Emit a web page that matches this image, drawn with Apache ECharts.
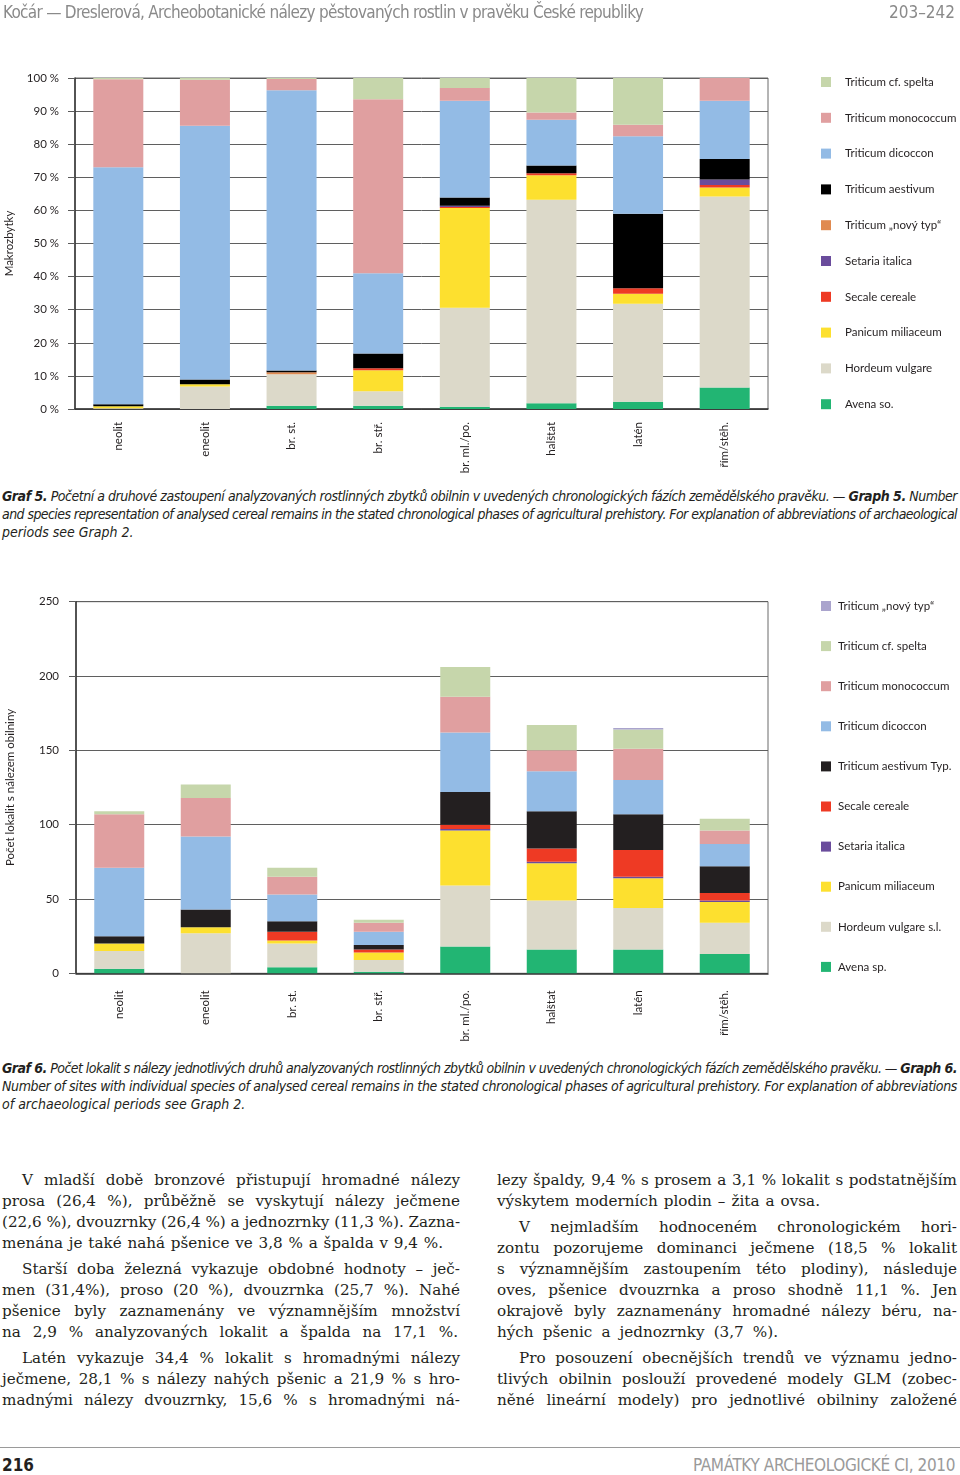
<!DOCTYPE html>
<html><head><meta charset="utf-8">
<script src="https://cdn.jsdelivr.net/npm/echarts/dist/echarts.min.js"></script>
<style>
html,body{margin:0;padding:0;background:#fff;}
body{width:960px;height:1475px;position:relative;overflow:hidden;}
.chart{position:absolute;left:0;width:960px;}
.ln{position:absolute;white-space:nowrap;display:inline-block;}
.hdr{font-family:"Liberation Sans Narrow","DejaVu Sans Condensed",sans-serif;font-size:17px;color:#8a8a8a;line-height:20px;}
.cap{font-family:"Liberation Sans Narrow","DejaVu Sans Condensed",sans-serif;font-style:italic;font-size:14px;color:#231f20;line-height:18px;}
.cap b{font-weight:bold;}
.txt{font-family:"DejaVu Serif",serif;font-size:15.2px;color:#231f20;line-height:20px;}
.foot{font-family:"Liberation Sans Narrow","DejaVu Sans Condensed",sans-serif;font-size:17px;line-height:20px;}
</style></head>
<body>
<div id="c1" class="chart" style="top:0;height:485px;"></div>
<div id="c2" class="chart" style="top:560px;height:495px;"></div>

<div class="ln hdr" data-fit="640" data-mode="ls" style="left:3px;top:2px;">Kočár — Dreslerová, Archeobotanické nálezy pěstovaných rostlin v pravěku České republiky</div>
<div class="ln hdr" style="right:5px;top:2px;">203–242</div>

<div class="ln cap" data-fit="955" style="left:2px;top:487px;"><b>Graf 5.</b> Početní a druhové zastoupení analyzovaných rostlinných zbytků obilnin v uvedených chronologických fázích zemědělského pravěku. — <b>Graph 5.</b> Number</div>
<div class="ln cap" data-fit="955" style="left:2px;top:505px;">and species representation of analysed cereal remains in the stated chronological phases of agricultural prehistory. For explanation of abbreviations of archaeological</div>
<div class="ln cap" style="left:2px;top:523px;">periods see Graph 2.</div>

<div class="ln cap" data-fit="955" style="left:2px;top:1059px;"><b>Graf 6.</b> Počet lokalit s nálezy jednotlivých druhů analyzovaných rostlinných zbytků obilnin v uvedených chronologických fázích zemědělského pravěku. — <b>Graph 6.</b></div>
<div class="ln cap" data-fit="955" style="left:2px;top:1077px;">Number of sites with individual species of analysed cereal remains in the stated chronological phases of agricultural prehistory. For explanation of abbreviations</div>
<div class="ln cap" style="left:2px;top:1095px;">of archaeological periods see Graph 2.</div>

<div class="ln txt" data-fit="438" style="left:22px;top:1170px;">V mladší době bronzové přistupují hromadné nálezy</div>
<div class="ln txt" data-fit="458" style="left:2px;top:1191px;">prosa (26,4 %), průběžně se vyskytují nálezy ječmene</div>
<div class="ln txt" data-fit="458" style="left:2px;top:1212px;">(22,6 %), dvouzrnky (26,4 %) a jednozrnky (11,3 %). Zazna-</div>
<div class="ln txt" data-fit="441" style="left:2px;top:1233px;">menána je také nahá pšenice ve 3,8 % a špalda v 9,4 %.</div>
<div class="ln txt" data-fit="438" style="left:22px;top:1259px;">Starší doba železná vykazuje obdobné hodnoty – ječ-</div>
<div class="ln txt" data-fit="458" style="left:2px;top:1280px;">men (31,4%), proso (20 %), dvouzrnka (25,7 %). Nahé</div>
<div class="ln txt" data-fit="458" style="left:2px;top:1301px;">pšenice byly zaznamenány ve významnějším množství</div>
<div class="ln txt" data-fit="456" style="left:2px;top:1322px;">na 2,9 % analyzovaných lokalit a špalda na 17,1 %.</div>
<div class="ln txt" data-fit="438" style="left:22px;top:1348px;">Latén vykazuje 34,4 % lokalit s hromadnými nálezy</div>
<div class="ln txt" data-fit="458" style="left:2px;top:1369px;">ječmene, 28,1 % s nálezy nahých pšenic a 21,9 % s hro-</div>
<div class="ln txt" data-fit="458" style="left:2px;top:1390px;">madnými nálezy dvouzrnky, 15,6 % s hromadnými ná-</div>

<div class="ln txt" data-fit="460" style="left:497px;top:1170px;">lezy špaldy, 9,4 % s prosem a 3,1 % lokalit s podstatnějším</div>
<div class="ln txt" data-fit="323" style="left:497px;top:1191px;">výskytem moderních plodin – žita a ovsa.</div>
<div class="ln txt" data-fit="438" style="left:519px;top:1217px;">V nejmladším hodnoceném chronologickém hori-</div>
<div class="ln txt" data-fit="460" style="left:497px;top:1238px;">zontu pozorujeme dominanci ječmene (18,5 % lokalit</div>
<div class="ln txt" data-fit="460" style="left:497px;top:1259px;">s významnějším zastoupením této plodiny), následuje</div>
<div class="ln txt" data-fit="460" style="left:497px;top:1280px;">oves, pšenice dvouzrnka a proso shodně 11,1 %. Jen</div>
<div class="ln txt" data-fit="460" style="left:497px;top:1301px;">okrajově byly zaznamenány hromadné nálezy béru, na-</div>
<div class="ln txt" data-fit="281" style="left:497px;top:1322px;">hých pšenic a jednozrnky (3,7 %).</div>
<div class="ln txt" data-fit="438" style="left:519px;top:1348px;">Pro posouzení obecnějších trendů ve významu jedno-</div>
<div class="ln txt" data-fit="460" style="left:497px;top:1369px;">tlivých obilnin poslouží provedené modely GLM (zobec-</div>
<div class="ln txt" data-fit="460" style="left:497px;top:1390px;">něné lineární modely) pro jednotlivé obilniny založené</div>

<div style="position:absolute;left:0;top:1447px;width:960px;height:1px;background:#9a9a9a;"></div>
<div class="ln foot" style="left:2px;top:1455px;color:#231f20;font-weight:bold;">216</div>
<div class="ln foot" data-fit="262" data-mode="ls" style="left:693px;top:1455px;color:#9a9a9a;">PAMÁTKY ARCHEOLOGICKÉ CI, 2010</div>

<script>
// ---------- DATA ----------
const categories = ['neolit', 'eneolit', 'br. st.', 'br. stř.', 'br. ml./po.', 'halštat', 'latén', 'řím/stěh.'];

// Graf 5 – percentage of macro-remains (stack order bottom → top)
const g5Names = ['Avena so.', 'Hordeum vulgare', 'Panicum miliaceum', 'Secale cereale', 'Setaria italica',
  'Triticum „nový typ“', 'Triticum aestivum', 'Triticum dicoccon', 'Triticum monococcum', 'Triticum cf. spelta'];
const g5_avena      = [0,    0,    1.0,  1.0,  0.7,  1.7,  2.2,  6.5];
const g5_hordeum    = [0.2,  6.8,  9.5,  4.4,  29.9, 61.5, 29.6, 57.7];
const g5_panicum    = [0.6,  0.7,  0,    6.3,  30.1, 7.4,  3.0,  2.7];
const g5_secale     = [0,    0,    0,    0.6,  0.3,  0.6,  1.7,  0.8];
const g5_setaria    = [0,    0,    0,    0,    0.4,  0,    0,    1.6];
const g5_novy       = [0,    0,    0.6,  0,    0,    0,    0,    0];
const g5_aestivum   = [0.6,  1.4,  0.5,  4.5,  2.5,  2.4,  22.5, 6.2];
const g5_dicoccon   = [71.6, 76.7, 84.7, 24.2, 29.2, 13.8, 23.4, 17.6];
const g5_monococcum = [26.6, 13.9, 3.4,  52.6, 3.9,  2.2,  3.5,  6.9];
const g5_spelta     = [0.4,  0.5,  0.3,  6.4,  3.0,  10.4, 14.1, 0];
const g5Ticks = {min: 0, max: 100, interval: 10};

// Graf 6 – number of sites (stack order bottom → top)
const g6Names = ['Avena sp.', 'Hordeum vulgare s.l.', 'Panicum miliaceum', 'Setaria italica', 'Secale cereale',
  'Triticum aestivum Typ.', 'Triticum dicoccon', 'Triticum monococcum', 'Triticum cf. spelta', 'Triticum „nový typ“'];
const g6_avena      = [3,  0,  4,  1, 18, 16, 16, 13];
const g6_hordeum    = [12, 27, 16, 8, 41, 33, 28, 21];
const g6_panicum    = [5,  4,  2,  5, 37, 25, 20, 14];
const g6_setaria    = [0,  0,  0,  0, 1,  1,  1,  1];
const g6_secale     = [0,  0,  6,  2, 3,  9,  18, 5];
const g6_aestivum   = [5,  12, 7,  3, 22, 25, 24, 18];
const g6_dicoccon   = [46, 49, 18, 9, 40, 27, 23, 15];
const g6_monococcum = [36, 26, 12, 6, 24, 14, 21, 9];
const g6_spelta     = [2,  9,  6,  2, 20, 17, 13, 8];
const g6_novy       = [0,  0,  0,  0, 0,  0,  1,  0];
const g6Ticks = {min: 0, max: 250, interval: 50};

// ---------- STYLE ----------
const g5Colors = ['#22b573', '#dcd9c9', '#fde02f', '#ee3a24', '#6a4c9c', '#e08a50', '#000000', '#93bbe5', '#e09fa0', '#c6d6ab'];
const g6Colors = ['#22b573', '#dcd9c9', '#fde02f', '#6a4c9c', '#ee3a24', '#231f20', '#93bbe5', '#e09fa0', '#c6d6ab', '#aaa4cd'];
const g5Data = [g5_avena, g5_hordeum, g5_panicum, g5_secale, g5_setaria, g5_novy, g5_aestivum, g5_dicoccon, g5_monococcum, g5_spelta];
const g6Data = [g6_avena, g6_hordeum, g6_panicum, g6_setaria, g6_secale, g6_aestivum, g6_dicoccon, g6_monococcum, g6_spelta, g6_novy];

const FONT = 'Lato';
const TXT = '#231f20';

function makeOption(names, datas, colors, ticks, o) {
  return {
    animation: false,
    backgroundColor: 'transparent',
    grid: {left: o.left, top: o.top, width: o.width, height: o.height, show: true,
      borderColor: '#6a6a6a', borderWidth: 1, containLabel: false, outerBoundsMode: 'none'},
    legend: {
      orient: 'vertical', left: 821, top: o.legendTop, padding: 0, itemWidth: 10, itemHeight: 10,
      itemGap: o.legendGap, icon: 'rect', selectedMode: false,
      data: names.slice().reverse(),
      textStyle: {fontFamily: FONT, fontSize: 11.5, color: TXT, padding: [0, 0, 0, o.legendTextPad]}
    },
    xAxis: {
      type: 'category', data: categories,
      axisLine: {lineStyle: {color: '#333', width: 1.5}},
      axisTick: {show: false},
      axisLabel: {rotate: 90, margin: o.xMargin, fontFamily: FONT, fontSize: 11.5, color: TXT, interval: 0}
    },
    yAxis: {
      type: 'value', min: ticks.min, max: ticks.max, interval: ticks.interval,
      name: o.yName, nameLocation: 'middle', nameRotate: 90, nameGap: 60,
      nameTextStyle: {fontFamily: FONT, fontSize: 11.5, color: TXT},
      axisLine: {show: true, lineStyle: {color: '#333', width: 1.5}},
      axisTick: {show: true, length: 7, lineStyle: {color: '#5a5a5a'}},
      axisLabel: {margin: o.yMargin, fontFamily: FONT, fontSize: 11.5, color: TXT, formatter: o.fmt},
      splitLine: {lineStyle: {color: '#5f5f5f', width: 1}}
    },
    series: names.map((n, i) => ({
      name: n, type: 'bar', stack: 'all', data: datas[i], barWidth: 50,
      itemStyle: {color: colors[i]}, emphasis: {disabled: true}
    }))
  };
}

const c1 = echarts.init(document.getElementById('c1'), null, {renderer: 'canvas'});
c1.setOption(makeOption(g5Names, g5Data, g5Colors, g5Ticks, {
  left: 75, top: 78, width: 693, height: 331, legendTop: 76, legendGap: 23.8, legendTextPad: 9,
  xMargin: 13, yMargin: 16, yName: 'Makrozbytky', fmt: '{value} %'
}));
const c2 = echarts.init(document.getElementById('c2'), null, {renderer: 'canvas'});
c2.setOption(makeOption(g6Names, g6Data, g6Colors, g6Ticks, {
  left: 76, top: 41.7, width: 692, height: 371.6, legendTop: 40, legendGap: 28.1, legendTextPad: 2,
  xMargin: 17, yMargin: 17, yName: 'Počet lokalit s nálezem obilniny', fmt: '{value}'
}));

// ---------- justify text lines to their measured widths ----------
function fitAll() {
  document.querySelectorAll('[data-fit]').forEach(el => {
    const w = parseFloat(el.getAttribute('data-fit'));
    el.style.wordSpacing = '0px'; el.style.letterSpacing = '0px';
    const nat = el.getBoundingClientRect().width;
    const txt = el.textContent;
    const spaces = (txt.match(/ /g) || []).length;
    if (el.getAttribute('data-mode') === 'ls' || nat > w || spaces === 0) {
      el.style.letterSpacing = ((w - nat) / txt.length) + 'px';
    } else {
      el.style.wordSpacing = ((w - nat) / spaces) + 'px';
    }
  });
}
fitAll();
if (document.fonts && document.fonts.ready) document.fonts.ready.then(fitAll);
</script>
</body></html>
